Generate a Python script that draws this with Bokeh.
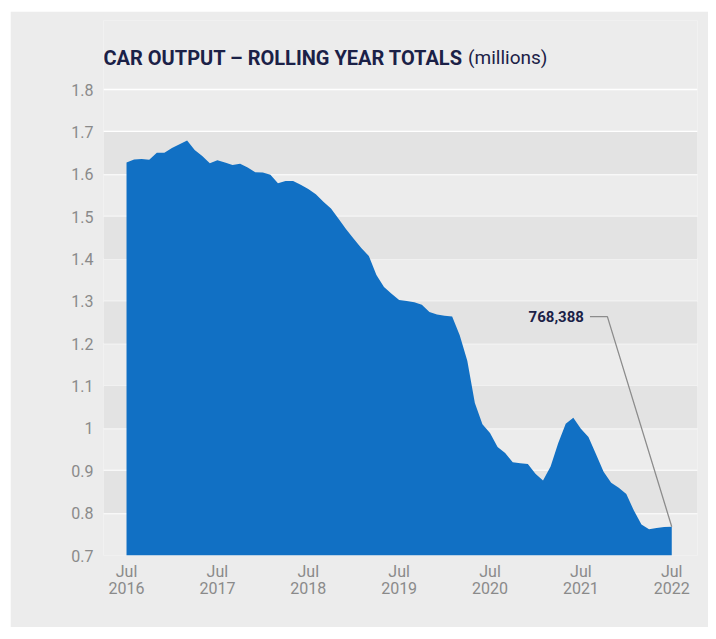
from bokeh.plotting import figure
from bokeh.models import (Range1d, FixedTicker, CustomJSTickFormatter, BoxAnnotation,
                          Label, ColumnDataSource)
from bokeh.embed import file_html
from bokeh.resources import INLINE

# ---------------- data ----------------
start_year = 2016
months = list(range(0, 73))  # months since Jul 2016
month_labels = [f"{start_year + (6 + m) // 12}-{(6 + m) % 12 + 1:02d}" for m in months]
output_millions = [
    1.628, 1.635, 1.636, 1.634, 1.651, 1.651, 1.662, 1.671, 1.680, 1.657,
    1.643, 1.626, 1.633, 1.628, 1.622, 1.625, 1.616, 1.605, 1.604, 1.599,
    1.579, 1.584, 1.584, 1.575, 1.565, 1.553, 1.535, 1.519, 1.495, 1.470,
    1.448, 1.426, 1.407, 1.362, 1.334, 1.318, 1.303, 1.301, 1.298, 1.292,
    1.275, 1.269, 1.266, 1.264, 1.220, 1.160, 1.060, 1.010, 0.989, 0.956,
    0.942, 0.920, 0.918, 0.916, 0.893, 0.877, 0.910, 0.965, 1.011, 1.025,
    0.999, 0.980, 0.939, 0.898, 0.872, 0.860, 0.845, 0.806, 0.773, 0.762,
    0.765, 0.767, 0.768,
]
y_ticks = [0.7, 0.8, 0.9, 1.0, 1.1, 1.2, 1.3, 1.4, 1.5, 1.6, 1.7, 1.8]
x_ticks = [0, 12, 24, 36, 48, 60, 72]
band_pairs = [(0.8, 0.9), (1.0, 1.1), (1.2, 1.3), (1.4, 1.5), (1.6, 1.7)]
title_bold = "CAR OUTPUT \u2013 ROLLING YEAR TOTALS"
title_norm = "(millions)"
last_label = "768,388"

# ---------------- styles ----------------
BG = "#ececec"
BAND = "#e3e3e3"
AREA = "#1170c4"
NAVY = "#1b2147"
GREY = "#8a8a8a"
FONT = "Roboto"

p = figure(width=698, height=616, output_backend="svg", toolbar_location=None,
           margin=(11, 0, 0, 10),
           x_range=Range1d(-3.04, 75.4), y_range=Range1d(0.7, 1.963),
           min_border_left=93, min_border_right=11, min_border_top=9,
           min_border_bottom=72)
p.background_fill_color = BG
p.border_fill_color = BG
p.outline_line_color = None

for lo, hi in band_pairs:
    p.add_layout(BoxAnnotation(bottom=lo, top=hi, fill_color=BAND, fill_alpha=1.0,
                               line_color=None, level="underlay"))

p.xgrid.visible = False
p.ygrid.ticker = FixedTicker(ticks=y_ticks)
p.ygrid.grid_line_color = "white"
p.ygrid.grid_line_width = 1.5
p.ygrid.level = "underlay"

src = ColumnDataSource(dict(x=months, y=output_millions, label=month_labels))
p.varea(x="x", y1=y_ticks[0], y2="y", source=src, fill_color=AREA)

# axes
p.yaxis.ticker = FixedTicker(ticks=y_ticks)
p.yaxis.formatter = CustomJSTickFormatter(code="return (Math.round(tick*10)/10).toString();")
p.xaxis.ticker = FixedTicker(ticks=x_ticks)
p.xaxis.formatter = CustomJSTickFormatter(
    args=dict(y0=start_year),
    code="return 'Jul\\n' + (y0 + Math.round(tick/12)).toString();")
for ax in (p.xaxis, p.yaxis):
    ax.axis_line_color = None
    ax.major_tick_line_color = None
    ax.minor_tick_line_color = None
    ax.major_label_text_color = GREY
    ax.major_label_text_font = FONT
p.yaxis.major_label_text_font_size = "16px"
p.yaxis.major_label_standoff = 4
p.xaxis.major_label_text_font_size = "16px"
p.xaxis.major_label_text_line_height = 0.9
p.xaxis.major_label_standoff = 0

# title
p.add_layout(Label(x=-3.04, y=1.8755, text=title_bold, text_font=FONT,
                   text_font_style="bold", text_font_size="20px", text_color=NAVY,
                   text_baseline="alphabetic", text_align="left"))
p.add_layout(Label(x=45.1, y=1.8755, text=title_norm, text_font=FONT,
                   text_font_style="normal", text_font_size="19px", text_color=NAVY,
                   text_baseline="alphabetic", text_align="left"))

# annotation for last value
x_last, y_last = months[-1], output_millions[-1]
ann_y = 1.264
p.line(x=[x_last - 10.8, x_last - 8.5, x_last], y=[ann_y, ann_y, y_last],
       line_color="#8c8c8c", line_width=1.3)
p.add_layout(Label(x=x_last - 11.6, y=ann_y, text=last_label, text_font=FONT,
                   text_font_style="bold", text_font_size="15px", text_color=NAVY,
                   text_baseline="middle", text_align="right"))

open("out.html", "w").write(file_html(p, INLINE))
